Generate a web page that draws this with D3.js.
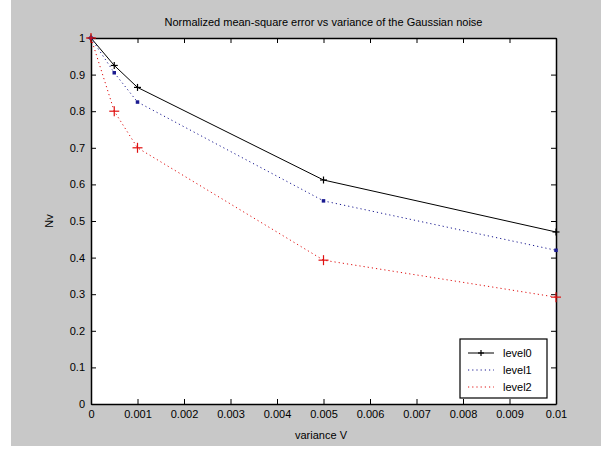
<!DOCTYPE html>
<html>
<head>
<meta charset="utf-8">
<script src="https://cdn.jsdelivr.net/npm/d3@7"></script>
<style>
  html, body { margin: 0; padding: 0; background: #ffffff; }
  svg { display: block; }
  text { font-family: "Liberation Sans", Arial, sans-serif; }
</style>
</head>
<body>
<svg id="chart" width="610" height="453"></svg>
<script>
// ---- data ----
const variance = [0, 0.0005, 0.001, 0.005, 0.01];
const level0 = [1, 0.925, 0.865, 0.612, 0.47];
const level1 = [1, 0.905, 0.825, 0.555, 0.42];
const level2 = [1, 0.80, 0.70, 0.393, 0.292];
const seriesNames = ["level0", "level1", "level2"];
const xTicks = [0, 0.001, 0.002, 0.003, 0.004, 0.005, 0.006, 0.007, 0.008, 0.009, 0.01];
const xTickLabels = ["0", "0.001", "0.002", "0.003", "0.004", "0.005", "0.006", "0.007", "0.008", "0.009", "0.01"];
const yTicks = [0, 0.1, 0.2, 0.3, 0.4, 0.5, 0.6, 0.7, 0.8, 0.9, 1];
const yTickLabels = ["0", "0.1", "0.2", "0.3", "0.4", "0.5", "0.6", "0.7", "0.8", "0.9", "1"];
const titleText = "Normalized mean-square error vs variance of the Gaussian noise";
const xLabel = "variance V";
const yLabel = "Nv";

// ---- layout ----
const svg = d3.select("#chart");
const L = 91, R = 556, T = 38, B = 404;

svg.append("rect").attr("x", 11).attr("y", 0).attr("width", 590).attr("height", 446).attr("fill", "#c8c8c8");
svg.append("rect").attr("x", L).attr("y", T).attr("width", R - L).attr("height", B - T).attr("fill", "#ffffff");

const x = d3.scaleLinear().domain([0, 0.01]).range([L, R]);
const y = d3.scaleLinear().domain([0, 1]).range([B, T]);

const tickLen = 5;
const xAxisB = d3.axisBottom(x).tickValues(xTicks).tickFormat((d, i) => xTickLabels[i]).tickSizeInner(-tickLen).tickSizeOuter(0).tickPadding(6);
const gB = svg.append("g").attr("transform", `translate(0,${B})`).call(xAxisB);
const xAxisT = d3.axisTop(x).tickValues(xTicks).tickFormat("").tickSizeInner(-tickLen).tickSizeOuter(0);
const gT = svg.append("g").attr("transform", `translate(0,${T})`).call(xAxisT);
const yAxisL = d3.axisLeft(y).tickValues(yTicks).tickFormat((d, i) => yTickLabels[i]).tickSizeInner(-tickLen).tickSizeOuter(0).tickPadding(6);
const gL = svg.append("g").attr("transform", `translate(${L},0)`).call(yAxisL);
const yAxisR = d3.axisRight(y).tickValues(yTicks).tickFormat("").tickSizeInner(-tickLen).tickSizeOuter(0);
const gR = svg.append("g").attr("transform", `translate(${R},0)`).call(yAxisR);

[gB, gT, gL, gR].forEach(g => {
  g.selectAll(".domain").attr("stroke", "#000").attr("stroke-width", 1.5);
  g.selectAll(".tick line").attr("stroke", "#000");
  g.selectAll("text").attr("fill", "#000").attr("font-size", 11).attr("font-family", "Liberation Sans, Arial, sans-serif");
});

// ---- series ----
const series = [
  { name: seriesNames[0], values: level0, color: "#000000", dash: null, marker: "plus", size: 3.5 },
  { name: seriesNames[1], values: level1, color: "#1a1a90", dash: "1.2,3", marker: "square", size: 3.5 },
  { name: seriesNames[2], values: level2, color: "#e01010", dash: "1.2,3", marker: "plus", size: 5 }
];

const line = d3.line().x((d, i) => x(variance[i])).y(d => y(d));

series.forEach(s => {
  svg.append("path")
    .datum(s.values)
    .attr("fill", "none")
    .attr("stroke", s.color)
    .attr("stroke-width", 1)
    .attr("stroke-dasharray", s.dash)
    .attr("d", line);
});

function drawMarker(g, cx, cy, type, color, size) {
  if (type === "plus") {
    g.append("line").attr("x1", cx - size).attr("x2", cx + size).attr("y1", cy).attr("y2", cy).attr("stroke", color).attr("stroke-width", 1.2);
    g.append("line").attr("x1", cx).attr("x2", cx).attr("y1", cy - size).attr("y2", cy + size).attr("stroke", color).attr("stroke-width", 1.2);
  } else if (type === "square") {
    g.append("rect").attr("x", cx - size / 2).attr("y", cy - size / 2).attr("width", size).attr("height", size).attr("fill", color);
  }
}

const mg = svg.append("g");
series.forEach(s => {
  s.values.forEach((v, i) => {
    drawMarker(mg, x(variance[i]), y(v), s.marker, s.color, s.size);
  });
});

// ---- labels ----
svg.append("text").attr("x", (L + R) / 2).attr("y", 26).attr("text-anchor", "middle").attr("font-size", 11).attr("fill", "#000").text(titleText);
svg.append("text").attr("x", 321).attr("y", 439).attr("text-anchor", "middle").attr("font-size", 11).attr("fill", "#000").text(xLabel);
svg.append("text").attr("transform", `translate(53,${(T + B) / 2}) rotate(-90)`).attr("text-anchor", "middle").attr("font-size", 11).attr("fill", "#000").text(yLabel);

// ---- legend ----
const lg = svg.append("g");
const lx = 460, ly = 339, lw = 87, lh = 59;
lg.append("rect").attr("x", lx).attr("y", ly).attr("width", lw).attr("height", lh).attr("fill", "#ffffff").attr("stroke", "#000").attr("stroke-width", 1.2);
const rowY = [353, 370, 387];
series.forEach((s, i) => {
  lg.append("line").attr("x1", 468).attr("x2", 494).attr("y1", rowY[i]).attr("y2", rowY[i])
    .attr("stroke", s.color).attr("stroke-width", 1).attr("stroke-dasharray", s.dash);
  if (i === 0) drawMarker(lg, 481, rowY[i], "plus", s.color, 3);
  lg.append("text").attr("x", 503).attr("y", rowY[i] + 4).attr("font-size", 11).attr("fill", "#000").text(s.name);
});
</script>
</body>
</html>
